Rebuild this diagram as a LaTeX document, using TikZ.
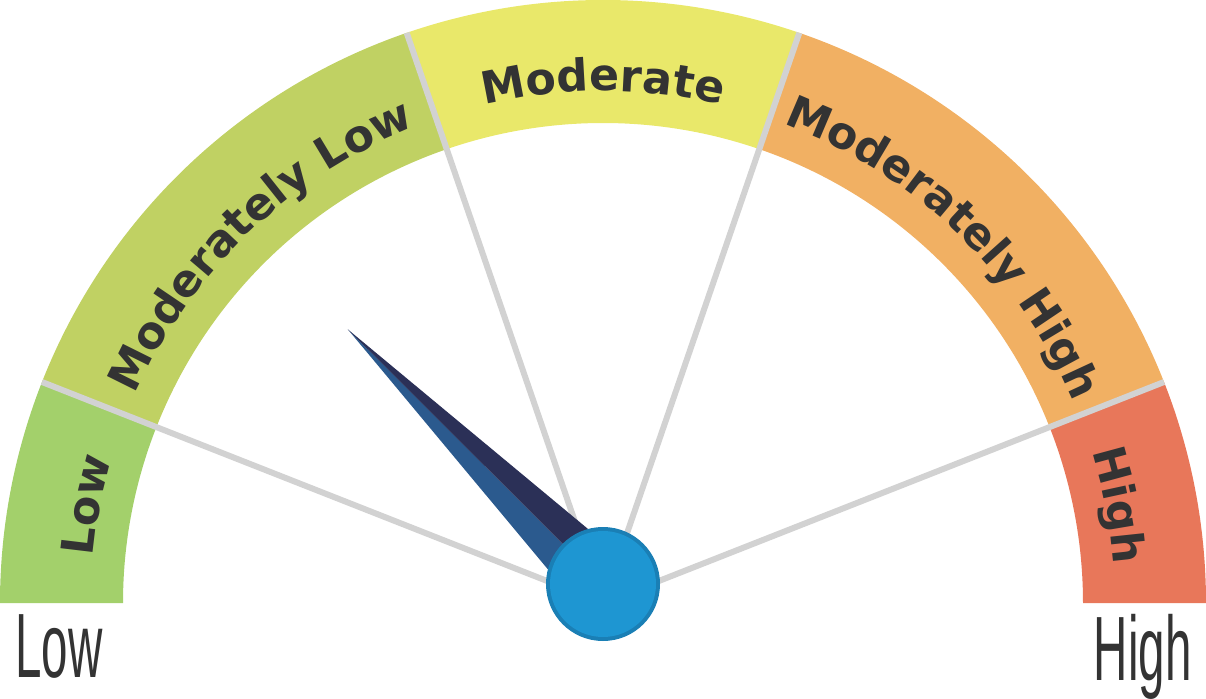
\documentclass[tikz,border=0pt]{standalone}
\usepackage{fontspec}
\setsansfont{DejaVu Sans}
\newfontfamily\lblfont{Liberation Sans}
\usetikzlibrary{decorations.text}
\definecolor{lowc}{HTML}{A3D06B}
\definecolor{mlowc}{HTML}{C0D163}
\definecolor{modc}{HTML}{E9E86A}
\definecolor{mhighc}{HTML}{F1B063}
\definecolor{highc}{HTML}{E8775A}
\definecolor{divc}{HTML}{D2D2D2}
\definecolor{txtc}{HTML}{333333}
\definecolor{needledark}{HTML}{2B3057}
\definecolor{needlelight}{HTML}{2B5A8E}
\definecolor{hubc}{HTML}{1E96D2}
\definecolor{hubedge}{HTML}{1A7FB5}
\tikzset{
  divider/.style={divc, line width=0.06cm},
  arclabel/.style={decorate, decoration={text along path, text align=center, text color=txtc}}
}
\newcommand{\ringfont}{\sffamily\bfseries\fontsize{12.6}{15}\selectfont}
\begin{document}
\begin{tikzpicture}
\useasboundingbox (0,0) rectangle (12.06,6.98);
\begin{scope}[shift={(6.03,0.95)}]
%Ring segments
\foreach \a/\b/\c in {180/158.5/lowc, 158.5/109/mlowc, 109/71/modc, 71/21.5/mhighc, 21.5/0/highc}
  \fill[\c] (\a:6.03) arc (\a:\b:6.03) -- (\b:4.8) arc (\b:\a:4.8) -- cycle;
%Dividers
\foreach \a in {158.5,109,71,21.5}
  \draw[divider] (0,0) -- (\a:6.03);
%Labels on the ring
\path[arclabel, decoration={text={|\ringfont|Low}}] (180:5.12) arc (180:158.5:5.12);
\path[arclabel, decoration={text={|\ringfont|Moderately Low}}] (158.5:5.12) arc (158.5:109:5.12);
\path[arclabel, decoration={text={|\ringfont|Moderate}}] (109:5.12) arc (109:71:5.12);
\path[arclabel, decoration={text={|\ringfont|Moderately High}}] (71:5.12) arc (71:21.5:5.12);
\path[arclabel, decoration={text={|\ringfont|High}}] (21.5:5.12) arc (21.5:0:5.12);
%Needle
\fill[needlelight] (133:3.74) -- (0,0.19) -- ++(223:0.33) -- cycle;
\fill[needledark] (133:3.74) -- (0,0.19) -- ++(43:0.33) -- cycle;
%Hub
\fill[hubedge] (0,0.19) circle (0.57);
\fill[hubc] (0,0.19) circle (0.53);
\end{scope}
%End labels
\node[txtc, xscale=0.52, anchor=north west, inner sep=0] (lowlbl) at (0.15,0.84) {\lblfont\fontsize{26}{28}\selectfont Low};
\node[txtc, xscale=0.52, anchor=north east, inner sep=0] (highlbl) at (11.92,0.84) {\lblfont\fontsize{26}{28}\selectfont High};
\end{tikzpicture}
\end{document}
